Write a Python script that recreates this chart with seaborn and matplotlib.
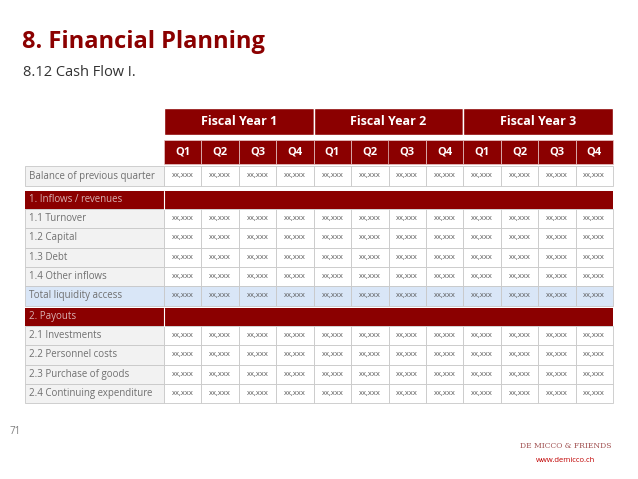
import matplotlib
matplotlib.use("Agg")
import matplotlib.pyplot as plt
import seaborn as sns
from matplotlib.patches import Rectangle

sns.set_theme(style="white", font="Open Sans")

years = ["Fiscal Year 1", "Fiscal Year 2", "Fiscal Year 3"]
quarters = ["Q1", "Q2", "Q3", "Q4"]
balance_label = "Balance of previous quarter"
inflow_header = "1. Inflows / revenues"
inflow_rows = ["1.1 Turnover", "1.2 Capital", "1.3 Debt", "1.4 Other inflows", "Total liquidity access"]
payout_header = "2. Payouts"
payout_rows = ["2.1 Investments", "2.2 Personnel costs", "2.3 Purchase of goods", "2.4 Continuing expenditure"]
cell_value = "xx,xxx"

RED = "#8b0000"
fig = plt.figure(figsize=(6.38, 4.79), dpi=100)
ax = fig.add_axes([0, 0, 1, 1])
ax.set_xlim(0, 638); ax.set_ylim(479, 0); ax.axis("off")

x0, xl = 25, 164
ncol = len(years) * len(quarters)
cw = (613 - xl) / ncol

def rect(x, y, w, h, fc, ec="none", lw=0.6):
    ax.add_patch(Rectangle((x, y), w, h, facecolor=fc, edgecolor=ec, lw=lw))

for i, yname in enumerate(years):
    x = xl + i * 4 * cw
    rect(x, 108, 4 * cw, 27, RED, "white", 1)
    ax.text(x + 2 * cw, 121.5, yname, color="white", ha="center", va="center", fontsize=9, fontweight="bold")
    for j, q in enumerate(quarters):
        xx = x + j * cw
        rect(xx, 140, cw, 24, RED, "#e8c8c8", 0.5)
        ax.text(xx + cw / 2, 152, q, color="white", ha="center", va="center", fontsize=8, fontweight="bold")

def data_row(y, h, label, fc="#f2f2f2", cellfc="white"):
    rect(x0, y, xl - x0, h, fc, "#c8c8c8")
    ax.text(x0 + 4, y + h / 2, label, color="#6f6f6f", ha="left", va="center", fontsize=7)
    for c in range(ncol):
        rect(xl + c * cw, y, cw, h, cellfc, "#c8c8c8")
        ax.text(xl + c * cw + cw / 2, y + h / 2, cell_value, color="#555555", ha="center", va="center", fontsize=5.5)

def header_row(y, h, label):
    rect(x0, y, 613 - x0, h, RED)
    ax.plot([xl, xl], [y, y + h], color="white", lw=0.8)
    ax.text(x0 + 4, y + h / 2, label, color="#d9b3b3", ha="left", va="center", fontsize=7)

data_row(166, 20, balance_label)

rh = 19.3
header_row(191, 18, inflow_header)
for k, lab in enumerate(inflow_rows):
    if lab.startswith("Total"):
        data_row(209 + k * rh, rh, lab, fc="#d9e6f7", cellfc="#d9e6f7")
    else:
        data_row(209 + k * rh, rh, lab)

header_row(308, 18, payout_header)
for k, lab in enumerate(payout_rows):
    data_row(326 + k * rh, rh, lab)

ax.text(22, 42, "8. Financial Planning", color=RED, fontsize=17, fontweight="bold", ha="left", va="center")
ax.text(23, 72, "8.12 Cash Flow I.", color="#333333", fontsize=10.5, ha="left", va="center")
ax.text(10, 432, "71", color="#7f7f7f", fontsize=7, ha="left", va="center")
ax.text(566, 446, "DE MICCO & FRIENDS", color="#a05050", fontsize=5.5, ha="center", va="center", fontfamily="serif")
ax.text(566, 460, "www.demicco.ch", color="#c00000", fontsize=5.5, ha="center", va="center")

fig.savefig("out.png", dpi=100)
